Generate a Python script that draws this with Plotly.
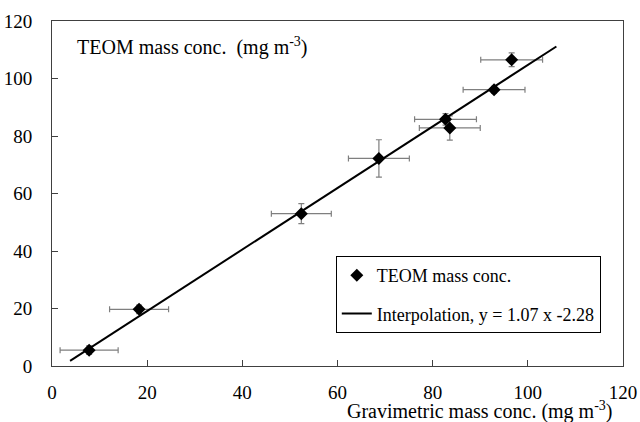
import plotly.graph_objects as go

grav = [7.8, 18.3, 52.4, 68.7, 82.7, 83.6, 92.9, 96.6]
teom = [5.5, 19.7, 53.0, 72.2, 85.8, 82.8, 96.1, 106.5]
err_x = [6.1, 6.2, 6.3, 6.4, 6.5, 6.4, 6.5, 6.5]
err_y = [1.5, 1.5, 3.5, 6.5, 2.0, 4.2, 1.2, 2.4]

slope = 1.07
intercept = -2.28
fit_x = [3.8, 106.0]
fit_y = [slope * v + intercept for v in fit_x]

x_ticks = [0, 20, 40, 60, 80, 100, 120]
y_ticks = [0, 20, 40, 60, 80, 100, 120]

FONT = "Liberation Serif, Times New Roman, serif"

fig = go.Figure()
fig.add_trace(go.Scatter(
    x=grav, y=teom, mode="markers", name="TEOM mass conc.", legendgroup="a",
    marker=dict(symbol="diamond", size=10, color="black"),
    error_x=dict(type="data", array=err_x, color="#7f7f7f", thickness=1.2, width=3),
    error_y=dict(type="data", array=err_y, color="#7f7f7f", thickness=1.2, width=3),
))
fig.add_trace(go.Scatter(
    x=fit_x, y=fit_y, mode="lines", name="Interpolation, y = 1.07 x -2.28", legendgroup="b",
    line=dict(color="black", width=2),
))

axis_common = dict(
    showgrid=False, zeroline=False, showline=True, linecolor="#404040", linewidth=1,
    mirror=True, ticks="inside", ticklen=6, tickcolor="#404040", automargin=False,
    tickfont=dict(family=FONT, size=19, color="black"),
)
fig.update_xaxes(range=[0, 120], tickvals=x_ticks, ticklabelstandoff=9,
                 ticklabeloverflow="allow", **axis_common)
fig.update_yaxes(range=[0, 120], tickvals=y_ticks, ticklabelstandoff=15,
                 ticklabeloverflow="allow", **axis_common)

fig.update_layout(
    template="none",
    width=640, height=422,
    margin=dict(l=52, r=17, t=21, b=56),
    paper_bgcolor="white", plot_bgcolor="white",
    font=dict(family=FONT, color="black"),
    showlegend=True,
    legend=dict(
        x=0.497, y=0.319, xanchor="left", yanchor="top",
        bordercolor="black", borderwidth=1, bgcolor="white",
        font=dict(family=FONT, size=18, color="black"),
        traceorder="grouped", tracegroupgap=12, itemwidth=30,
    ),
    annotations=[
        dict(text="TEOM mass conc.  (mg m<sup>-3</sup>)", xref="paper", yref="paper",
             x=0.04, y=0.925, xanchor="left", yanchor="middle", showarrow=False,
             font=dict(family=FONT, size=20, color="black")),
        dict(text="Gravimetric mass conc. (mg m<sup>-3</sup>)", xref="paper", yref="paper",
             x=0.986, y=-0.128, xanchor="right", yanchor="middle", showarrow=False,
             font=dict(family=FONT, size=20, color="black")),
    ],
)

fig.write_html(
    "out.html",
    config=dict(displayModeBar=False),
    post_script="document.body.style.margin='0';document.body.style.overflow='hidden';",
)
